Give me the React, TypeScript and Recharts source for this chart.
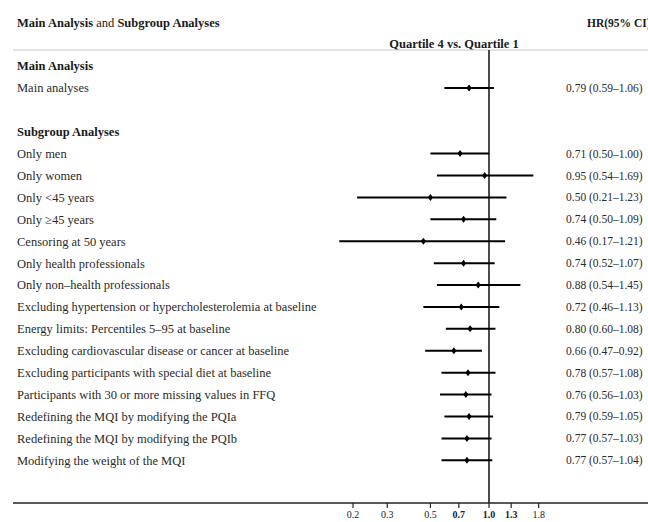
import React from 'react';
import { ScatterChart, Scatter, XAxis, YAxis, ErrorBar, ReferenceLine, Customized } from 'recharts';

const sectionTitles = ['Main Analysis', 'Subgroup Analyses'];
const analyses = [
  'Main analyses',
  'Only men',
  'Only women',
  'Only <45 years',
  'Only \u226545 years',
  'Censoring at 50 years',
  'Only health professionals',
  'Only non\u2013health professionals',
  'Excluding hypertension or hypercholesterolemia at baseline',
  'Energy limits: Percentiles 5\u201395 at baseline',
  'Excluding cardiovascular disease or cancer at baseline',
  'Excluding participants with special diet at baseline',
  'Participants with 30 or more missing values in FFQ',
  'Redefining the MQI by modifying the PQIa',
  'Redefining the MQI by modifying the PQIb',
  'Modifying the weight of the MQI',
];
const hrValues = [0.79, 0.71, 0.95, 0.5, 0.74, 0.46, 0.74, 0.88, 0.72, 0.8, 0.66, 0.78, 0.76, 0.79, 0.77, 0.77];
const ciLow = [0.59, 0.5, 0.54, 0.21, 0.5, 0.17, 0.52, 0.54, 0.46, 0.6, 0.47, 0.57, 0.56, 0.59, 0.57, 0.57];
const ciHigh = [1.06, 1.0, 1.69, 1.23, 1.09, 1.21, 1.07, 1.45, 1.13, 1.08, 0.92, 1.08, 1.03, 1.05, 1.03, 1.04];
const xTicks = [0.2, 0.3, 0.5, 0.7, 1.0, 1.3, 1.8];
const xTickLabels = ['0.2', '0.3', '0.5', '0.7', '1.0', '1.3', '1.8'];
const emphasizedTicks = ['0.7', '1.0', '1.3'];
const titleParts = ['Main Analysis', ' and ', 'Subgroup Analyses'];
const comparisonLabel = 'Quartile 4 vs. Quartile 1';
const columnHeader = 'HR(95% CI)';

type Row = { label: string; title: boolean; hr?: number; lo?: number; hi?: number };

const rows: Row[] = [];
rows.push({ label: sectionTitles[0], title: true });
rows.push({ label: analyses[0], title: false, hr: hrValues[0], lo: ciLow[0], hi: ciHigh[0] });
rows.push({ label: '', title: false });
rows.push({ label: sectionTitles[1], title: true });
for (let i = 1; i < analyses.length; i++) {
  rows.push({ label: analyses[i], title: false, hr: hrValues[i], lo: ciLow[i], hi: ciHigh[i] });
}

const points = rows
  .map((r, i) => ({ r, i }))
  .filter(({ r }) => r.hr !== undefined)
  .map(({ r, i }) => ({ x: r.hr as number, y: i, err: [(r.hr as number) - (r.lo as number), (r.hi as number) - (r.hr as number)] }));

const labelPoints = rows.map((r, i) => ({ x: 1, y: i, row: r }));

const SERIF = '"Liberation Serif", "Times New Roman", serif';

const fmt = (v: number) => v.toFixed(2);

const RowText = (props: any) => {
  const { cy, payload } = props;
  const row: Row | undefined = payload && payload.row;
  if (!row || cy == null) return <g />;
  return (
    <g>
      <text
        x={17}
        y={cy}
        dy="0.35em"
        textAnchor="start"
        fontFamily={SERIF}
        fontSize={12.5}
        fontWeight={row.title ? 'bold' : 'normal'}
        fill={row.title ? '#1a1a1a' : '#2a2a2a'}
      >
        {row.label}
      </text>
      {row.hr !== undefined && (
        <text x={566} y={cy} dy="0.35em" textAnchor="start" fontFamily={SERIF} fontSize={11.5} fill="#2a2a2a">
          {`${fmt(row.hr)} (${fmt(row.lo as number)}\u2013${fmt(row.hi as number)})`}
        </text>
      )}
    </g>
  );
};

const XTick = (props: any) => {
  const { x, y, payload } = props;
  const idx = xTicks.indexOf(payload.value);
  const label = idx >= 0 ? xTickLabels[idx] : String(payload.value);
  return (
    <text
      x={x}
      y={y}
      dy="0.75em"
      textAnchor="middle"
      fontFamily={SERIF}
      fontSize={10}
      fontWeight={emphasizedTicks.includes(label) ? 'bold' : 'normal'}
      fill="#222"
    >
      {label}
    </text>
  );
};

const Diamond = (props: any) => {
  const { cx, cy } = props;
  return <path d={`M${cx},${cy - 3.5}L${cx + 2.6},${cy}L${cx},${cy + 3.5}L${cx - 2.6},${cy}Z`} fill="#000" />;
};

const Header = (props: any) => {
  const off = props.offset || {};
  const left = off.left ?? 13;
  const top = off.top ?? 50;
  const width = off.width ?? 635;
  return (
    <g>
      <text x={17} y={23} dy="0.35em" fontFamily={SERIF} fontSize={12.5} fill="#1a1a1a">
        <tspan fontWeight="bold">{titleParts[0]}</tspan>
        <tspan fontWeight="normal">{titleParts[1]}</tspan>
        <tspan fontWeight="bold">{titleParts[2]}</tspan>
      </text>
      <text x={587} y={23} dy="0.35em" fontFamily={SERIF} fontSize={11.5} fontWeight="bold" fill="#1a1a1a">
        {columnHeader}
      </text>
      <text x={454} y={44} dy="0.35em" textAnchor="middle" fontFamily={SERIF} fontSize={12.5} fontWeight="bold" fill="#1a1a1a">
        {comparisonLabel}
      </text>
      <line x1={left} x2={left + width} y1={top} y2={top} stroke="#c8c8c8" strokeWidth={1} />
    </g>
  );
};

export default function App() {
  return (
    <div style={{ position: 'absolute', left: 0, top: 0, width: 648, height: 522, background: '#fff' }}>
      <ScatterChart width={648} height={522} margin={{ top: 50, right: 0, bottom: 0, left: 13 }}>
        <XAxis
          type="number"
          dataKey="x"
          scale="log"
          domain={[0.003577, 6.565]}
          allowDataOverflow
          ticks={xTicks}
          interval={0}
          tick={<XTick />}
          tickSize={5}
          tickLine={{ stroke: '#222', strokeWidth: 1.2 }}
          axisLine={{ stroke: '#222', strokeWidth: 1.5 }}
          height={19}
        />
        <YAxis type="number" dataKey="y" domain={[-0.73, 19.95]} reversed allowDataOverflow hide width={0} />
        <ReferenceLine x={1} stroke="#111" strokeWidth={1.5} />
        <Scatter data={labelPoints} shape={<RowText />} isAnimationActive={false} />
        <Scatter data={points} shape={<Diamond />} isAnimationActive={false}>
          <ErrorBar dataKey="err" direction="x" width={0} stroke="#000" strokeWidth={2} isAnimationActive={false} />
        </Scatter>
        <Customized component={<Header />} />
      </ScatterChart>
    </div>
  );
}
